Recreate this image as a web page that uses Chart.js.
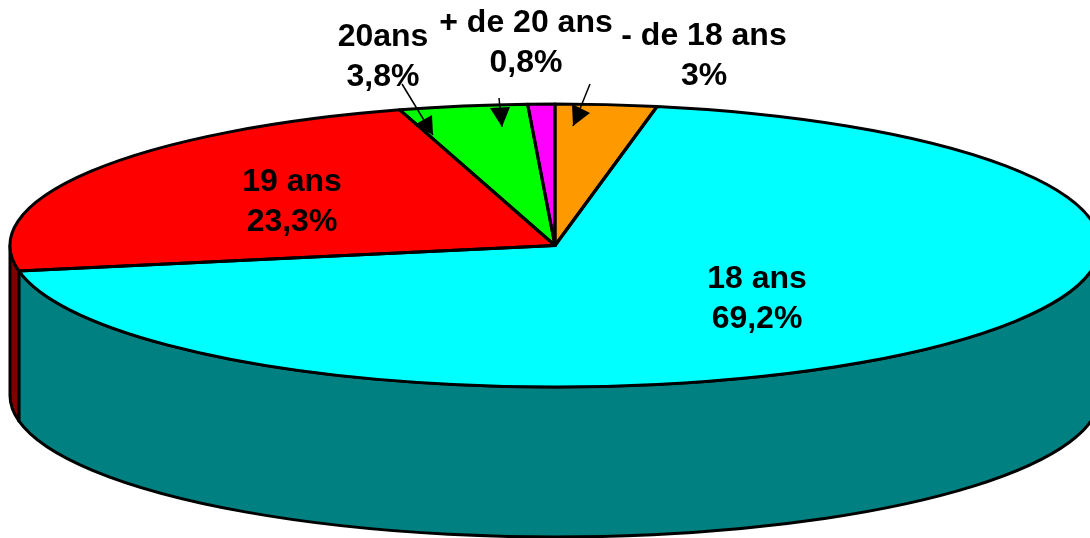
<!DOCTYPE html>
<html><head><meta charset="utf-8">
<style>html,body{margin:0;padding:0;background:#fff;overflow:hidden}canvas{display:block}</style>
<script src="https://cdn.jsdelivr.net/npm/chart.js@4/dist/chart.umd.min.js"></script>
</head><body><canvas id="c" width="1090" height="538"></canvas>
<script>
const categories = ['- de 18 ans', '18 ans', '19 ans', '20ans', '+ de 20 ans'];
const values = [3, 69.2, 23.3, 3.8, 0.8];
const percentLabels = ['3%', '69,2%', '23,3%', '3,8%', '0,8%'];
const topColors = ['#ff9900', '#00ffff', '#ff0000', '#00ff00', '#ff00ff'];
const wallColors = ['#805000', '#008080', '#800000', '#008000', '#800080'];
const labelCentres = [[704, 45], [757, 288], [292, 191], [383, 46], [526, 32]];
const leaderLines = [
  {from: [590, 84], tip: [573, 126], base: [[572, 104], [590, 113]]},
  {from: [499, 98], tip: [502, 127], base: [[490, 108], [510, 107]]},
  {from: [402, 84], tip: [433, 135], base: [[414, 125], [432, 115]]}
];
const RADIUS = 545, SQUASH = 141.5 / 545, DEPTH = 150, LINE = 3;

const tilted = {
  id: 'tilted',
  beforeDatasetsDraw(chart) {
    const ctx = chart.ctx, arcs = chart.getDatasetMeta(0).data;
    const cx = arcs[0].x, cy = arcs[0].y, rx = arcs[0].outerRadius, ry = rx * SQUASH;
    // side wall: only the front half of the ellipse (canvas angles 0..PI)
    ctx.save();
    ctx.lineWidth = LINE; ctx.strokeStyle = '#000'; ctx.lineJoin = 'round';
    arcs.forEach((a, i) => {
      const s = Math.max(a.startAngle, 0), e = Math.min(a.endAngle, Math.PI);
      if (e <= s) return;
      ctx.beginPath();
      ctx.ellipse(cx, cy, rx, ry, 0, s, e);
      ctx.lineTo(cx + rx * Math.cos(e), cy + DEPTH + ry * Math.sin(e));
      ctx.ellipse(cx, cy + DEPTH, rx, ry, 0, e, s, true);
      ctx.closePath();
      ctx.fillStyle = wallColors[i];
      ctx.fill(); ctx.stroke();
    });
    ctx.restore();
    ctx.save();
    ctx.translate(cx, cy); ctx.scale(1, SQUASH); ctx.translate(-cx, -cy);
  },
  afterDatasetsDraw(chart) {
    const ctx = chart.ctx, arcs = chart.getDatasetMeta(0).data;
    ctx.restore();
    const cx = arcs[0].x, cy = arcs[0].y, rx = arcs[0].outerRadius, ry = rx * SQUASH;
    ctx.save();
    ctx.lineWidth = LINE; ctx.strokeStyle = '#000'; ctx.lineJoin = 'round';
    arcs.forEach(a => {
      ctx.beginPath();
      ctx.moveTo(cx, cy);
      ctx.ellipse(cx, cy, rx, ry, 0, a.startAngle, a.endAngle);
      ctx.closePath();
      ctx.stroke();
    });
    ctx.restore();
  },
  afterDraw(chart) {
    const ctx = chart.ctx;
    ctx.save();
    ctx.strokeStyle = '#000'; ctx.fillStyle = '#000'; ctx.lineWidth = 1.5;
    leaderLines.forEach(l => {
      ctx.beginPath(); ctx.moveTo(l.from[0], l.from[1]); ctx.lineTo(l.tip[0], l.tip[1]); ctx.stroke();
      ctx.beginPath(); ctx.moveTo(l.tip[0], l.tip[1]);
      ctx.lineTo(l.base[0][0], l.base[0][1]); ctx.lineTo(l.base[1][0], l.base[1][1]);
      ctx.closePath(); ctx.fill();
    });
    ctx.font = 'bold 32px "Liberation Sans", Arial, sans-serif';
    ctx.textAlign = 'center'; ctx.textBaseline = 'alphabetic';
    categories.forEach((name, i) => {
      const [x, y] = labelCentres[i];
      ctx.fillText(name, x, y);
      ctx.fillText(percentLabels[i], x, y + 40);
    });
    ctx.restore();
  }
};

new Chart(document.getElementById('c'), {
  type: 'pie',
  data: {
    labels: categories,
    datasets: [{data: values, backgroundColor: topColors, borderWidth: 0, radius: RADIUS, clip: false}]
  },
  options: {
    responsive: false,
    animation: false,
    layout: {padding: {left: 20, right: 0, top: 0, bottom: 47}},
    plugins: {legend: {display: false}, tooltip: {enabled: false}}
  },
  plugins: [tilted]
});
</script></body></html>
